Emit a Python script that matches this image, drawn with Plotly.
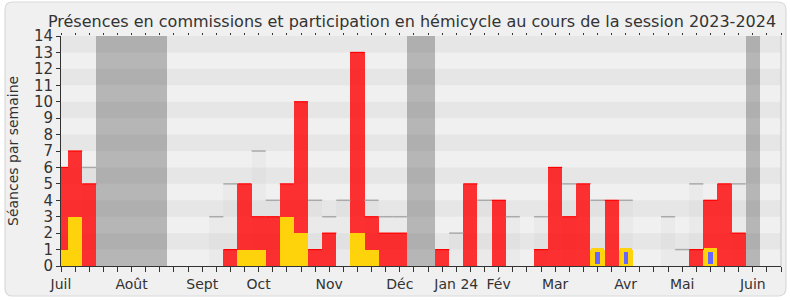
import plotly.graph_objects as go

# ---------------- data (one value per week, week 0 = first week of July 2023) -------------
semaines = list(range(52))
commissions = [6, 7, 5, 0, 0, 0, 0, 0, 0, 0, 0, 0, 1, 5, 3, 3, 5, 10, 1, 2, 0, 13, 3, 2, 2, 0,
               0, 1, 0, 5, 0, 4, 0, 0, 1, 6, 3, 5, 0, 4, 0, 0, 0, 0, 0, 1, 4, 5, 2, 0, 0, 0]
hemicycle = [1, 3, 0, 0, 0, 0, 0, 0, 0, 0, 0, 0, 0, 1, 1, 0, 3, 2, 0, 0, 0, 2, 1, 0, 0, 0,
             0, 0, 0, 0, 0, 0, 0, 0, 0, 0, 0, 0, 1, 0, 1, 0, 0, 0, 0, 0, 1, 0, 0, 0, 0, 0]
questions = [0, 0, 0, 0, 0, 0, 0, 0, 0, 0, 0, 0, 0, 0, 0, 0, 0, 0, 0, 0, 0, 0, 0, 0, 0, 0,
             0, 0, 0, 0, 0, 0, 0, 0, 0, 0, 0, 0, 1, 0, 1, 0, 0, 0, 0, 0, 1, 0, 0, 0, 0, 0]
mediane = [None, None, 6, None, None, None, None, None, None, None, None, 3, 5, None, 7, 4,
           None, None, 4, 3, 4, None, 4, 3, 3, None, None, None, 2, None, 4, None, 3, None,
           3, None, 5, None, 4, None, 4, None, None, 3, 1, 5, None, None, 5, None, None, None]
vacances = [0, 0, 0, 1, 1, 1, 1, 1, 0, 0, 0, 0, 0, 0, 0, 0, 0, 0, 0, 0, 0, 0, 0, 0, 0, 1,
            1, 0, 0, 0, 0, 0, 0, 0, 0, 0, 0, 0, 0, 0, 0, 0, 0, 0, 0, 0, 0, 0, 0, 1, 0, 0]
mois = ["Juil", "Août", "Sept", "Oct", "Nov", "Déc", "Jan 24", "Fév", "Mar", "Avr", "Mai", "Juin"]
mois_semaine = [0, 5, 10, 14, 19, 24, 28, 31, 35, 40, 44, 49]
y_max = 14

titre = "Présences en commissions et participation en hémicycle au cours de la session 2023-2024"
titre_y = "Séances par semaine"

# ---------------- styles -------------
TXT = "#333333"
FONT = "DejaVu Sans"
ROUGE = "rgba(255,0,0,0.8)"
JAUNE = "#ffd30c"
BLEU = "#6666ff"

fig = go.Figure()

# vacation bands
fig.add_trace(go.Bar(x=semaines, y=[y_max if v else None for v in vacances], width=1,
                     marker=dict(color="rgba(50,50,50,0.3)", line=dict(width=0)),
                     hoverinfo="skip"))
# median bars
fig.add_trace(go.Bar(x=semaines, y=mediane, width=1,
                     marker=dict(color="rgba(185,185,185,0.1)", line=dict(width=0)),
                     hoverinfo="skip"))


def segments(vals):
    xs, ys = [], []
    for i, v in zip(semaines, vals):
        if v:
            xs += [i - 0.5, i + 0.5, None]
            ys += [v, v, None]
    return xs, ys


mx, my = segments(mediane)
fig.add_trace(go.Scatter(x=mx, y=my, mode="lines", line=dict(color="#aaaaaa", width=1.5),
                         hoverinfo="skip"))
# commissions
fig.add_trace(go.Bar(x=semaines, y=[v if v else None for v in commissions], width=1,
                     marker=dict(color=ROUGE, line=dict(width=0)), hoverinfo="skip"))
rx, ry = segments(commissions)
fig.add_trace(go.Scatter(x=rx, y=ry, mode="lines", line=dict(color="#ff0000", width=1.2),
                         hoverinfo="skip"))
# hemicycle
fig.add_trace(go.Bar(x=semaines, y=[v if v else None for v in hemicycle], width=1,
                     marker=dict(color=JAUNE, line=dict(width=0)), hoverinfo="skip"))
# questions
fig.add_trace(go.Bar(x=semaines, y=[v if v else None for v in questions], width=0.58,
                     marker=dict(color=BLEU, line=dict(width=4, color=JAUNE)), hoverinfo="skip"))
# helper trace for top tick axis
fig.add_trace(go.Scatter(x=[0], y=[0], xaxis="x2", mode="markers",
                         marker=dict(opacity=0), hoverinfo="skip"))

x_fin = len(semaines) - 1

# background stripes
shapes = []
for k in range(1, y_max, 2):
    shapes.append(dict(type="rect", xref="x", yref="y", x0=0, x1=x_fin, y0=k, y1=k + 1,
                       fillcolor="#e6e6e6", line=dict(width=0), layer="below"))

# outer rounded frame (pixel -> paper)
L, T, W, H = 61, 36, 720, 230


def px(x):
    return (x - L) / W


def py(y):
    return (T + H - y) / H


x0, x1, y0, y1, r = 5, 786, 2, 296, 8
path = (f"M {px(x0 + r)} {py(y0)} L {px(x1 - r)} {py(y0)} Q {px(x1)} {py(y0)} {px(x1)} {py(y0 + r)} "
        f"L {px(x1)} {py(y1 - r)} Q {px(x1)} {py(y1)} {px(x1 - r)} {py(y1)} "
        f"L {px(x0 + r)} {py(y1)} Q {px(x0)} {py(y1)} {px(x0)} {py(y1 - r)} "
        f"L {px(x0)} {py(y0 + r)} Q {px(x0)} {py(y0)} {px(x0 + r)} {py(y0)} Z")
shapes.append(dict(type="path", xref="paper", yref="paper", path=path, fillcolor="#f0f0f0",
                   line=dict(color="#d9d9d9", width=1.2), layer="below"))
# right border of plot
shapes.append(dict(type="line", xref="paper", yref="paper", x0=1, x1=1, y0=0, y1=1,
                   line=dict(color="#c8c8c8", width=1), layer="above"))

ticktext = [""] * len(semaines)
for m, s in zip(mois, mois_semaine):
    ticktext[s] = m

fig.update_layout(
    width=790, height=300,
    margin=dict(l=L, r=790 - L - W, t=T, b=300 - T - H, pad=0),
    paper_bgcolor="white", plot_bgcolor="#fafafa",
    barmode="overlay", bargap=0, showlegend=False,
    font=dict(family=FONT, color=TXT),
    title=dict(text=titre, x=412 / 790, xref="container", xanchor="center",
               y=1 - 21 / 300, yref="container", yanchor="middle",
               font=dict(size=16, family=FONT, color=TXT)),
    xaxis=dict(range=[0, x_fin], tickvals=semaines, ticktext=ticktext,
               ticks="outside", ticklen=5, tickcolor=TXT, tickwidth=1,
               showline=True, linecolor=TXT, linewidth=1, showgrid=False, zeroline=False,
               tickfont=dict(size=14, family=FONT, color=TXT), tickangle=0),
    xaxis2=dict(range=[0, x_fin], overlaying="x", side="top", anchor="y",
                tickvals=semaines, ticks="outside", ticklen=2, tickcolor=TXT, tickwidth=1,
                showticklabels=False, showline=False, showgrid=False, zeroline=False),
    yaxis=dict(range=[0, y_max], tickvals=list(range(0, y_max + 1)),
               ticks="outside", ticklen=4, tickcolor=TXT, tickwidth=1,
               showline=True, linecolor=TXT, linewidth=1, showgrid=False, zeroline=False,
               tickfont=dict(size=15, family=FONT, color=TXT)),
    shapes=shapes,
    annotations=[dict(text=titre_y, xref="paper", yref="paper", x=px(13), y=0.5,
                      textangle=-90, showarrow=False, xanchor="center", yanchor="middle",
                      font=dict(size=14, family=FONT, color=TXT))],
)

fig.write_html("out.html")
